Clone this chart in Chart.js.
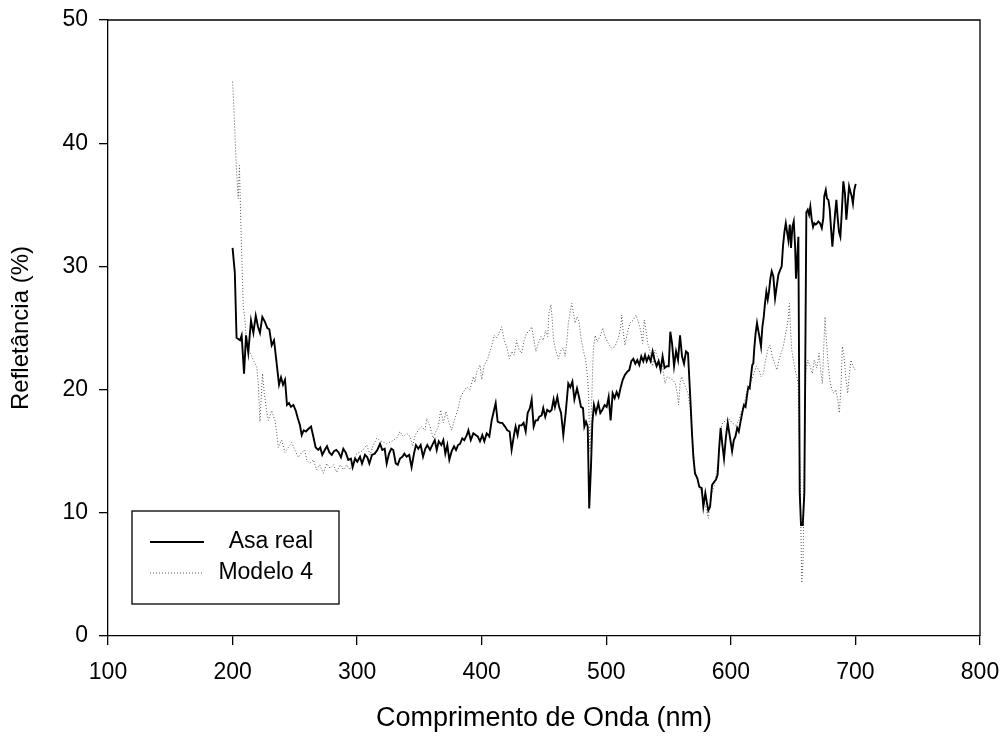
<!DOCTYPE html>
<html>
<head>
<meta charset="utf-8">
<script src="https://cdn.jsdelivr.net/npm/chart.js@4.4.1/dist/chart.umd.min.js"></script>
<style>
  html, body { margin: 0; padding: 0; background: #fff; }
  #wrap { width: 1006px; height: 747px; }
</style>
</head>
<body>
<div id="wrap"><canvas id="refChart" width="1006" height="747"></canvas></div>
<script>
// Comprimento de onda (nm) e refletância (%) - Asa real
const asaWl = [200, 201.8, 203.2, 206, 207.3, 209.2, 210.8, 212.6, 214.8, 216.7, 218.6, 220.4, 222, 223.9, 226, 227.9, 229.5, 231.4, 233.3, 235.1, 237.3, 238.9, 240.5, 242.1, 243.7, 245.3, 246.9, 248.8, 250.7, 252.3, 254.1, 255.5, 257.1, 258.9, 260.8, 263, 264.8, 266.7, 268.8, 270.4, 272, 274, 275.8, 277.7, 279.6, 281.4, 283.3, 285.1, 287, 288.9, 290.8, 292.9, 295, 296.4, 298.3, 300.1, 302.3, 303.9, 306.3, 308.2, 309.8, 311.9, 314.1, 316.2, 318.4, 320.2, 322.1, 323.7, 325.6, 327.4, 329, 331, 332.6, 334.4, 336.3, 337.9, 339.7, 341.8, 343.7, 345.6, 347.2, 349.1, 351, 352.9, 354.7, 356.3, 358.5, 360.3, 362.3, 363.9, 365.5, 367.6, 369.2, 370.8, 372.4, 374, 375.9, 377.8, 379.4, 381, 382.6, 384.4, 386, 388, 389.3, 391.2, 393.3, 395.4, 396.8, 398.6, 400.5, 402.1, 404, 406.1, 408, 409.6, 411.2, 412.8, 414.7, 416.5, 418.7, 420.5, 422.4, 424, 425.9, 427.2, 428.8, 430.1, 432, 433.6, 435.3, 436.9, 438.7, 440.1, 441.7, 443.3, 444.9, 446.2, 448.1, 449.4, 451, 452.6, 454.6, 456.1, 457.7, 458.8, 460.7, 462.1, 463.7, 465.5, 467.4, 469.5, 471.1, 472.8, 474.4, 476.5, 478.1, 479.7, 481.3, 482.4, 483.7, 485.1, 486.3, 487.7, 488.8, 490.1, 491.7, 493.6, 495.2, 496.8, 498.7, 500.3, 501.9, 503.5, 505.1, 506.7, 508.3, 509.9, 511.6, 513.2, 515, 516.9, 518.5, 520.1, 521.7, 523.3, 524.9, 526.5, 528.1, 529.7, 531.1, 532.4, 534, 535.6, 537.2, 538.8, 540.4, 542, 543.6, 545.2, 546.8, 548.5, 550.1, 551.4, 552.8, 554.4, 556, 557.6, 559.2, 560.8, 562.4, 564, 565.6, 566.7, 567.8, 568.8, 569.9, 571.2, 573.1, 574.7, 576.6, 577.9, 579.5, 580.6, 581.9, 583.3, 584.9, 586.5, 588.1, 589.4, 590.5, 591.8, 593.1, 594.5, 596.1, 597.5, 598.8, 601, 602.4, 603.7, 605.1, 606.4, 607.8, 609.1, 610.5, 611.8, 613.2, 614, 615.1, 616.1, 617.2, 618, 618.8, 619.9, 621, 622, 623.1, 624.2, 625.3, 626.4, 627.4, 628.5, 629.6, 630.6, 631.7, 632.8, 634.1, 635.5, 636.8, 638.1, 639.5, 640.8, 641.9, 643, 644.1, 645.1, 646.2, 647.3, 648.3, 649.4, 650.5, 651.6, 652.3, 653.2, 654.2, 655.3, 656.3, 657.7, 659, 660.6, 661.7, 662.8, 663.8, 664.9, 666, 667, 668.1, 669.2, 670.2, 671.6, 673, 674.2, 675, 676.2, 677.2, 678.3, 679.4, 680.4, 681.5, 682.6, 683.6, 684.7, 685.8, 686.8, 687.9, 689, 690.3, 691.6, 692.7, 693.8, 694.9, 695.9, 697, 698, 699.1, 700.2];
const asaVal = [31.5, 29.5, 24.2, 24.0, 24.4, 21.3, 24.4, 23.0, 25.6, 24.6, 26.0, 25.1, 24.6, 25.9, 25.5, 25.0, 24.9, 23.6, 24.0, 22.4, 20.4, 21.0, 20.4, 20.8, 18.75, 18.9, 18.6, 18.75, 18.3, 17.7, 17.1, 16.3, 16.7, 16.6, 16.8, 17.0, 16.2, 15.3, 15.1, 15.3, 14.7, 15.1, 15.4, 14.9, 14.7, 15.0, 15.1, 14.9, 14.5, 15.2, 14.9, 14.3, 14.4, 13.7, 14.4, 14.15, 14.55, 14.0, 14.7, 14.5, 14.0, 14.7, 14.8, 15.1, 15.6, 15.1, 15.2, 14.0, 14.8, 15.2, 15.1, 14.0, 13.9, 14.4, 14.55, 14.8, 14.55, 14.7, 13.7, 14.8, 15.5, 15.2, 15.5, 14.55, 15.2, 15.5, 15.1, 15.5, 15.9, 15.1, 15.8, 15.5, 15.9, 14.8, 15.5, 14.3, 15.0, 15.4, 15.1, 15.5, 15.6, 16.05, 15.9, 16.3, 16.7, 15.9, 16.45, 16.3, 16.2, 15.8, 16.3, 15.8, 16.45, 16.2, 17.5, 18.2, 18.9, 17.4, 17.3, 17.3, 17.0, 16.7, 16.6, 15.1, 16.3, 17.0, 16.3, 17.1, 17.1, 17.3, 16.6, 18.1, 18.5, 19.2, 17.0, 17.5, 17.5, 17.8, 17.9, 18.5, 17.8, 18.35, 18.2, 18.35, 19.2, 18.6, 19.4, 18.6, 18.1, 16.3, 18.1, 20.5, 20.2, 20.65, 19.2, 20.1, 19.4, 18.6, 18.5, 17.0, 17.4, 17.0, 10.35, 13.7, 17.3, 18.75, 18.1, 18.9, 18.1, 18.35, 18.75, 18.6, 19.4, 17.5, 19.7, 19.3, 19.8, 19.4, 20.2, 20.8, 21.2, 21.45, 21.6, 22.3, 22.5, 22.1, 22.4, 22.0, 22.7, 22.3, 22.8, 22.3, 22.7, 22.3, 23.1, 22.4, 21.9, 22.3, 21.6, 22.7, 21.75, 21.9, 21.9, 24.7, 23.75, 21.9, 23.1, 22.4, 24.4, 22.7, 22.1, 23.1, 22.95, 20.8, 18.6, 16.45, 14.55, 13.2, 12.8, 12.1, 12.0, 10.5, 11.6, 10.9, 10.2, 10.5, 12.25, 12.5, 12.7, 13.1, 15.1, 16.9, 15.6, 14.4, 16.2, 17.3, 16.45, 15.0, 15.9, 16.2, 16.9, 16.6, 17.4, 18.1, 18.75, 18.6, 19.7, 20.2, 20.1, 21.05, 22.0, 22.1, 23.35, 24.6, 25.4, 24.8, 24.2, 23.5, 25.1, 25.9, 27.0, 27.95, 27.3, 27.95, 29.0, 29.6, 29.2, 27.4, 28.35, 29.3, 29.7, 30.0, 31.7, 32.8, 33.5, 32.8, 32.1, 33.4, 31.5, 33.2, 33.65, 31.6, 29.0, 30.5, 32.4, 11.6, 9.0, 9.0, 11.6, 34.4, 34.6, 34.2, 34.85, 33.8, 33.2, 33.5, 33.4, 33.5, 33.65, 33.5, 33.1, 33.9, 35.7, 36.2, 35.5, 35.4, 34.6, 33.1, 31.6, 33.0, 34.2, 35.4, 33.9, 32.8, 32.4, 34.3, 36.9, 35.9, 33.8, 35.1, 36.5, 36.1, 35.7, 35.1, 36.2, 36.7];

// Modelo 4
const modWl = [200, 201, 202, 203, 204.5, 205.5, 206.5, 207.5, 208.6, 210, 211.3, 214, 216.6, 219.4, 220.6, 222, 224, 225.5, 227.4, 228.7, 231.4, 234, 235.4, 236.7, 239.4, 242.1, 244.7, 247.5, 250, 252.8, 255.5, 258, 259.5, 262, 264.8, 267.5, 270, 272.8, 275.6, 278.2, 281, 283.6, 286.3, 289, 291.6, 294.3, 297, 299.6, 303.7, 307.7, 310.4, 313, 315.7, 319.7, 323.7, 327.7, 331.7, 334.4, 337, 339.8, 342.5, 344.5, 346.5, 349.1, 351.8, 354.5, 355.8, 358.5, 361.1, 363.3, 365.2, 367, 369.2, 371.3, 373.2, 375.8, 378.5, 381.2, 383.1, 385.2, 388, 390.6, 393.3, 394.6, 396, 397.3, 398.6, 400, 402, 404.8, 406.7, 408.5, 410.1, 411.9, 413.9, 416, 418.1, 420, 422.2, 424, 426.1, 428, 430.1, 432, 434.1, 436.1, 437.9, 440.1, 442.1, 443.5, 445.4, 447.6, 449.4, 451.3, 453, 454, 455.6, 456.6, 457.7, 459.4, 461.5, 463.7, 465.5, 466.9, 468.5, 469.5, 471, 472.3, 473.7, 475, 476.5, 478.1, 479.7, 481.5, 483.5, 485.1, 485.9, 486.3, 486.9, 487.8, 488.8, 489.6, 491, 492.8, 495, 497.1, 499, 501.6, 504.4, 507, 509.7, 511.6, 512.4, 513.7, 515, 516.9, 519, 521.7, 523.9, 525.7, 527.6, 529.2, 530.5, 531.9, 533.3, 535.1, 537.2, 539.1, 540.9, 543.1, 545, 547.1, 548.9, 551.2, 553.3, 555.4, 557, 558.1, 559.2, 560.5, 562.4, 564, 565.6, 567.2, 568.5, 569.9, 571.2, 575, 579.5, 581.9, 584.5, 587, 590, 591.8, 593.4, 596.1, 598.3, 601, 603.7, 606.4, 607.8, 610.5, 612.4, 614.5, 616.7, 618.5, 620.4, 622.5, 624.2, 626.1, 627.9, 629.6, 631.4, 633.3, 635.4, 637, 638.6, 640.3, 642.1, 643.5, 644.8, 646.2, 647, 647.8, 648.9, 650.2, 651.6, 652.9, 654, 654.7, 655.8, 656.9, 658, 659, 660.2, 661.7, 663.6, 665.4, 667, 669, 670.8, 672.4, 673.5, 674.6, 675.6, 676.7, 677.8, 679.4, 681, 682.6, 684.2, 685.8, 687.1, 688.4, 689.5, 690.6, 692.2, 693.8, 694.9, 696.5, 698, 699.7];
const modVal = [45.0, 43.0, 40.5, 38.1, 35.5, 38.2, 34.0, 30.5, 26.7, 25.6, 23.5, 23.0, 22.4, 21.8, 20.5, 17.4, 21.3, 19.7, 18.2, 17.5, 18.3, 17.5, 16.5, 15.3, 15.9, 14.9, 15.3, 15.7, 15.1, 14.5, 14.9, 15.1, 14.3, 14.0, 14.3, 13.5, 13.9, 13.2, 14.0, 13.6, 13.9, 13.3, 13.9, 13.5, 13.9, 13.5, 14.1, 14.8, 15.0, 15.5, 14.7, 15.5, 16.05, 15.8, 15.6, 15.8, 16.05, 16.6, 16.2, 16.45, 16.2, 15.4, 16.3, 16.7, 17.0, 16.7, 17.65, 17.0, 16.05, 16.6, 17.0, 18.35, 17.3, 18.2, 17.5, 16.7, 17.65, 18.5, 19.4, 19.8, 20.2, 20.0, 21.05, 20.6, 21.45, 21.7, 22.0, 20.8, 22.0, 22.5, 23.1, 23.75, 24.4, 24.2, 24.6, 25.1, 24.0, 23.5, 22.5, 23.1, 22.8, 24.0, 23.2, 22.95, 24.0, 24.6, 24.7, 25.1, 23.9, 23.1, 23.75, 24.3, 24.0, 24.8, 24.3, 26.2, 26.9, 25.65, 24.0, 23.2, 22.5, 23.2, 23.4, 22.7, 24.0, 25.4, 26.3, 27.0, 26.2, 25.4, 25.9, 25.5, 24.2, 23.2, 22.4, 20.8, 19.2, 17.0, 15.0, 17.5, 20.8, 23.2, 24.4, 23.9, 24.3, 25.0, 24.3, 23.75, 23.35, 23.5, 24.2, 25.1, 26.05, 24.6, 23.6, 24.6, 25.4, 25.65, 26.05, 25.5, 24.8, 23.75, 25.65, 24.8, 23.75, 23.1, 21.9, 23.2, 22.7, 22.1, 22.0, 20.5, 21.05, 20.9, 20.8, 20.5, 19.7, 18.75, 20.5, 21.05, 20.5, 20.1, 19.7, 18.6, 17.0, 15.1, 13.5, 12.0, 10.6, 9.55, 11.6, 12.3, 14.3, 16.8, 17.3, 17.5, 17.65, 17.3, 17.1, 17.5, 18.1, 18.75, 19.7, 20.2, 20.8, 21.3, 21.9, 21.6, 21.05, 21.3, 22.4, 23.2, 23.6, 22.7, 22.0, 21.6, 22.4, 22.95, 23.5, 24.3, 24.95, 25.9, 27.0, 25.1, 23.2, 22.4, 21.6, 21.05, 20.5, 17.0, 11.6, 4.3, 6.2, 14.3, 21.6, 22.4, 21.9, 21.3, 22.4, 21.75, 22.95, 21.3, 20.5, 23.5, 25.9, 24.0, 22.4, 20.8, 20.0, 19.7, 20.0, 19.2, 18.1, 20.2, 23.5, 22.95, 21.05, 19.7, 21.05, 22.4, 21.9, 21.6];

const seriesNames = ["Asa real", "Modelo 4"];
const xTicks = [100, 200, 300, 400, 500, 600, 700, 800];
const yTicks = [0, 10, 20, 30, 40, 50];

const FONT = "'Liberation Sans', Arial, sans-serif";

function toPoints(xs, ys) {
    return xs.map(function (x, i) { return { x: x, y: ys[i] }; });
}

// moldura e legenda desenhadas por cima
const framePlugin = {
    id: "frame",
    afterDraw: function (chart) {
        const ctx = chart.ctx;
        const a = chart.chartArea;
        ctx.save();
        ctx.strokeStyle = "#000";
        ctx.lineWidth = 1.3;
        ctx.beginPath();
        ctx.moveTo(a.left, a.top);
        ctx.lineTo(a.right, a.top);
        ctx.lineTo(a.right, a.bottom);
        ctx.stroke();

        // legenda
        const bx = a.left + 24, by = a.bottom - 125, bw = 207, bh = 93;
        ctx.fillStyle = "#fff";
        ctx.fillRect(bx, by, bw, bh);
        ctx.lineWidth = 1.3;
        ctx.strokeRect(bx, by, bw, bh);
        const rows = [by + 31, by + 62];
        chart.data.datasets.forEach(function (ds, i) {
            ctx.save();
            ctx.strokeStyle = ds.borderColor;
            ctx.lineWidth = ds.borderWidth;
            ctx.setLineDash(ds.borderDash || []);
            ctx.beginPath();
            ctx.moveTo(bx + 18, rows[i]);
            ctx.lineTo(bx + 72, rows[i]);
            ctx.stroke();
            ctx.restore();
            ctx.fillStyle = "#000";
            ctx.font = "23px " + FONT;
            ctx.textAlign = "right";
            ctx.textBaseline = "middle";
            ctx.fillText(ds.label, bx + 181, rows[i]);
        });
        ctx.restore();
    }
};

const ctx = document.getElementById("refChart").getContext("2d");
new Chart(ctx, {
    type: "line",
    data: {
        datasets: [
            {
                label: seriesNames[0],
                data: toPoints(asaWl, asaVal),
                borderColor: "#000",
                borderWidth: 1.9,
                pointRadius: 0,
                tension: 0,
                fill: false,
                order: 1,
            },
            {
                label: seriesNames[1],
                data: toPoints(modWl, modVal),
                borderColor: "#555",
                borderWidth: 1,
                borderDash: [1, 2],
                pointRadius: 0,
                tension: 0,
                fill: false,
                order: 2,
            },
        ],
    },
    options: {
        responsive: false,
        animation: false,
        devicePixelRatio: 1,
        layout: { padding: { top: 20, right: 26, left: 0, bottom: 0 } },
        plugins: {
            legend: { display: false },
            tooltip: { enabled: false },
        },
        scales: {
            x: {
                type: "linear",
                min: xTicks[0],
                max: xTicks[xTicks.length - 1],
                afterBuildTicks: function (s) { s.ticks = xTicks.map(function (v) { return { value: v }; }); },
                afterFit: function (s) { s.height = 111; s.paddingLeft = 0; s.paddingRight = 0; },
                grid: { drawOnChartArea: false, drawTicks: true, tickLength: 9, color: "#000", lineWidth: 1.3 },
                border: { display: true, color: "#000", width: 1.3 },
                ticks: { color: "#000", font: { family: FONT, size: 23 }, padding: 14, maxRotation: 0 },
                title: {
                    display: true,
                    text: "Comprimento de Onda (nm)",
                    color: "#000",
                    font: { family: FONT, size: 27 },
                    padding: { top: 0, bottom: 12 },
                },
            },
            y: {
                type: "linear",
                min: yTicks[0],
                max: yTicks[yTicks.length - 1],
                afterBuildTicks: function (s) { s.ticks = yTicks.map(function (v) { return { value: v }; }); },
                afterFit: function (s) { s.width = 108; s.paddingTop = 0; s.paddingBottom = 0; },
                grid: { drawOnChartArea: false, drawTicks: true, tickLength: 9, color: "#000", lineWidth: 1.3 },
                border: { display: true, color: "#000", width: 1.3 },
                ticks: { color: "#000", font: { family: FONT, size: 23 }, padding: 11 },
                title: {
                    display: true,
                    text: "Refletância (%)",
                    color: "#000",
                    font: { family: FONT, size: 24 },
                    padding: { top: 7, bottom: 0 },
                },
            },
        },
    },
    plugins: [framePlugin],
});
</script>
</body>
</html>
